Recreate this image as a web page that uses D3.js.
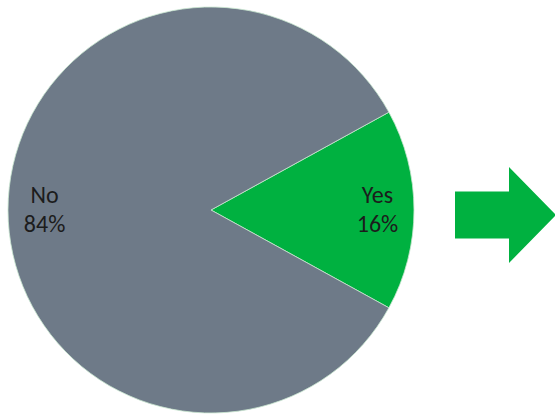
<!DOCTYPE html>
<html>
<head>
<meta charset="utf-8">
<script src="https://cdn.jsdelivr.net/npm/d3@7/dist/d3.min.js"></script>
<style>
  html, body { margin: 0; padding: 0; background: #ffffff; }
  svg { display: block; }
  text { font-family: Carlito, Calibri, Lato, "Open Sans", sans-serif; }
</style>
</head>
<body>
<svg id="chart" width="555" height="414"></svg>
<script>
// Survey answer shares
const categories = ["Yes", "No"];
const values = [16, 84];
const labels = ["16%", "84%"];
const colors = ["#00b140", "#6e7a88"];

const svg = d3.select("#chart");
const cx = 211, cy = 210, radius = 203;

// "Yes" wedge centred on the 3 o'clock direction
const yesShare = values[0] / d3.sum(values);
const start = Math.PI / 2 - yesShare * Math.PI;

const pie = d3.pie()
  .sort(null)
  .value(d => d)
  .startAngle(start)
  .endAngle(start + 2 * Math.PI);

const arcs = pie(values);
const arc = d3.arc().innerRadius(0).outerRadius(radius);

const g = svg.append("g").attr("transform", `translate(${cx},${cy})`);

g.selectAll("path.slice")
  .data(arcs)
  .join("path")
  .attr("class", "slice")
  .attr("d", arc)
  .attr("fill", (d, i) => colors[i])
  .attr("stroke", "#c8e6cf")
  .attr("stroke-width", 0.8)
  .attr("stroke-linejoin", "round");

// Labels sit near the outer rim of each slice
const labelArc = d3.arc().innerRadius(radius * 0.82).outerRadius(radius * 0.82);
const labelGroups = g.selectAll("g.label")
  .data(arcs)
  .join("g")
  .attr("class", "label")
  .attr("transform", d => {
    const [x, y] = labelArc.centroid(d);
    return `translate(${x},${y})`;
  });

labelGroups.append("text")
  .attr("text-anchor", "middle")
  .attr("font-size", 24)
  .attr("fill", "#1c1c1c")
  .attr("y", -7)
  .text((d, i) => categories[i]);

labelGroups.append("text")
  .attr("text-anchor", "middle")
  .attr("font-size", 24)
  .attr("fill", "#1c1c1c")
  .attr("y", 22)
  .text((d, i) => labels[i]);

// Block arrow pointing right
const ax = 455, ay = 215;
const arrow = d3.path();
arrow.moveTo(ax, ay - 23.5);
arrow.lineTo(509, ay - 23.5);
arrow.lineTo(509, ay - 48);
arrow.lineTo(556, ay);
arrow.lineTo(509, ay + 48);
arrow.lineTo(509, ay + 23.5);
arrow.lineTo(ax, ay + 23.5);
arrow.closePath();

svg.append("path")
  .attr("d", arrow.toString())
  .attr("fill", colors[0]);
</script>
</body>
</html>
